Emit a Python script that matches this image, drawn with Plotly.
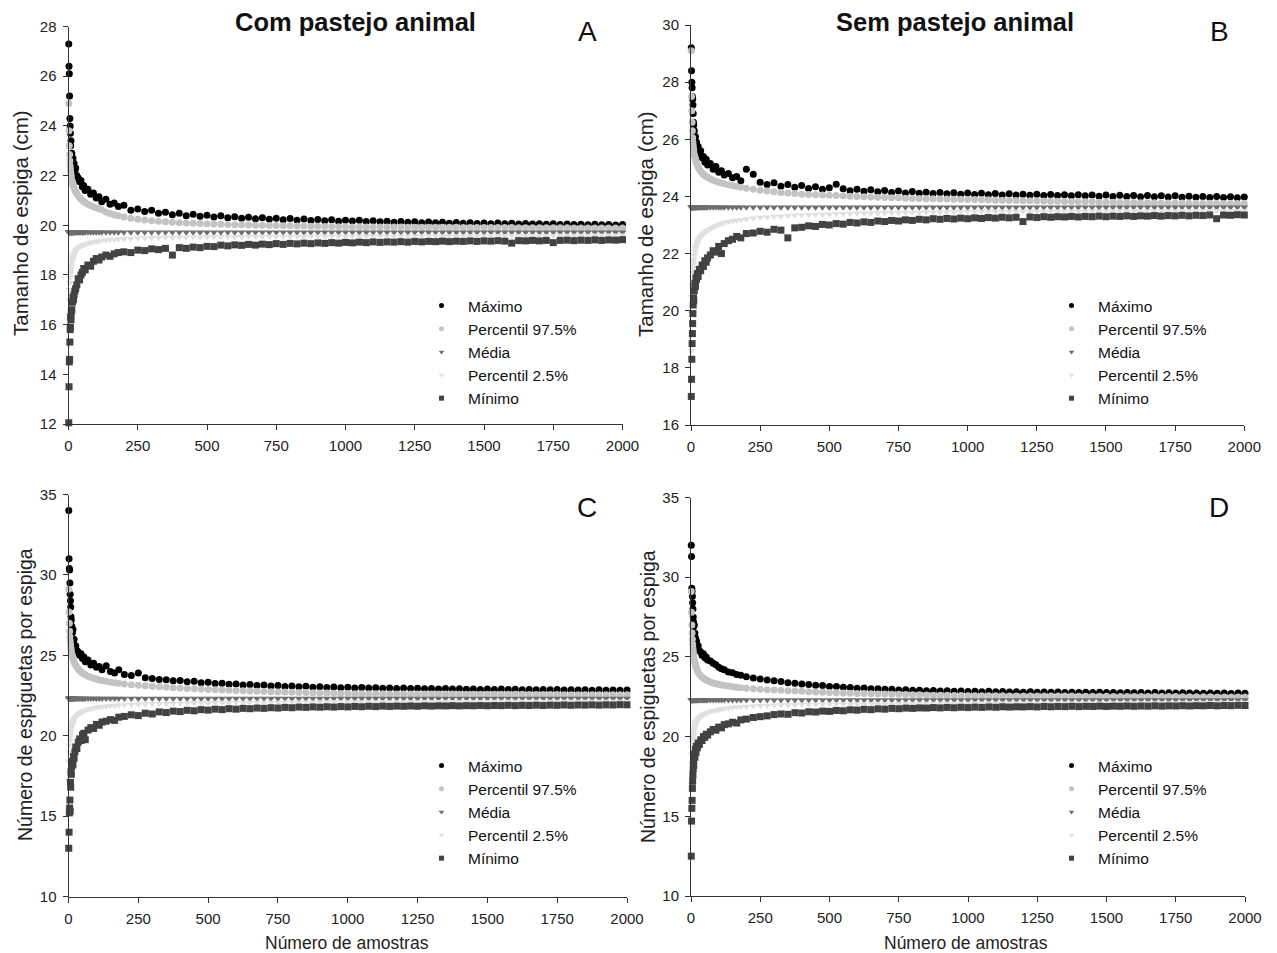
import plotly.graph_objects as go

# ---------------- data ----------------
N = [1, 2, 3, 4, 5, 6, 7, 8, 9, 10,
     12, 14, 16, 18, 20, 23, 26, 30, 35, 40,
     45, 50, 55, 60, 70, 80, 90, 100, 110, 120,
     135, 150, 165, 180, 200, 225, 250,
     275, 300, 325, 350, 375, 400, 425, 450, 475, 500,
     525, 550, 575, 600, 625, 650, 675, 700, 725, 750,
     775, 800, 825, 850, 875, 900, 925, 950, 975, 1000,
     1025, 1050, 1075, 1100, 1125, 1150, 1175, 1200, 1225, 1250,
     1275, 1300, 1325, 1350, 1375, 1400, 1425, 1450, 1475, 1500,
     1525, 1550, 1575, 1600, 1625, 1650, 1675, 1700, 1725, 1750,
     1775, 1800, 1825, 1850, 1875, 1900, 1925, 1950, 1975, 2000]

A_MAX = [27.3, 26.4, 26.1, 25.2, 24.3, 24.0, 23.7, 23.2, 23.4, 22.8,
         22.9, 22.6, 22.7, 22.4, 22.5, 22.2, 22.3, 22.0, 21.9, 21.75,
         21.8, 21.55, 21.6, 21.4, 21.45, 21.25, 21.3, 21.1, 21.15, 20.95,
         21.05, 20.85, 20.9, 20.75, 20.8, 20.6, 20.65,
         20.55, 20.6, 20.48, 20.52, 20.42, 20.48, 20.38, 20.44, 20.36, 20.4,
         20.33, 20.38, 20.3, 20.34, 20.28, 20.32, 20.26, 20.3, 20.24, 20.28,
         20.22, 20.27, 20.2, 20.25, 20.19, 20.23, 20.18, 20.22, 20.16, 20.2,
         20.17, 20.2, 20.15, 20.18, 20.14, 20.16, 20.12, 20.15, 20.12, 20.14,
         20.1, 20.13, 20.1, 20.12, 20.08, 20.11, 20.08, 20.1, 20.07, 20.09,
         20.06, 20.09, 20.06, 20.08, 20.05, 20.07, 20.05, 20.06, 20.04, 20.06,
         20.03, 20.05, 20.03, 20.04, 20.02, 20.04, 20.02, 20.03, 20.01, 20.03]
A_P975 = [24.9, 23.8, 23.2, 22.85, 22.6, 22.4, 22.25, 22.13, 22.03, 21.95,
          21.82, 21.72, 21.63, 21.56, 21.5, 21.42, 21.35, 21.27, 21.19, 21.12,
          21.06, 21.01, 20.96, 20.92, 20.85, 20.79, 20.74, 20.7, 20.66, 20.62,
          20.53, 20.47, 20.42, 20.38, 20.33, 20.28, 20.24,
          20.21, 20.18, 20.16, 20.14, 20.12, 20.1, 20.09, 20.08, 20.07, 20.06,
          20.05, 20.04, 20.03, 20.02, 20.02, 20.01, 20.0, 20.0, 19.99, 19.99,
          19.98, 19.98, 19.97, 19.97, 19.96, 19.96, 19.95, 19.95, 19.94, 19.94,
          19.93, 19.93, 19.93, 19.93, 19.93, 19.93, 19.93, 19.93, 19.92, 19.92,
          19.92, 19.92, 19.92, 19.92, 19.92, 19.92, 19.91, 19.91, 19.91, 19.91,
          19.91, 19.91, 19.91, 19.91, 19.9, 19.9, 19.9, 19.9, 19.9, 19.9,
          19.9, 19.9, 19.89, 19.89, 19.89, 19.89, 19.89, 19.89, 19.89, 19.89]
A_MEAN = 19.72
A_P25 = [15.2, 16.4, 17.0, 17.4, 17.7, 17.9, 18.05, 18.15, 18.25, 18.35,
         18.5, 18.6, 18.7, 18.77, 18.83, 18.9, 18.96, 19.02, 19.08, 19.12,
         19.16, 19.19, 19.22, 19.24, 19.28, 19.31, 19.33, 19.35, 19.37, 19.39,
         19.41, 19.43, 19.44, 19.45, 19.46, 19.47, 19.48,
         19.49, 19.5, 19.5, 19.51, 19.51, 19.52, 19.52, 19.53, 19.53, 19.53,
         19.54, 19.54, 19.54, 19.54, 19.54, 19.55, 19.55, 19.55, 19.55, 19.55,
         19.55, 19.55, 19.55, 19.55, 19.55, 19.56, 19.56, 19.56, 19.56, 19.56,
         19.56, 19.56, 19.56, 19.56, 19.56, 19.56, 19.56, 19.56, 19.56, 19.56,
         19.57, 19.57, 19.57, 19.57, 19.57, 19.57, 19.57, 19.57, 19.57, 19.57,
         19.58, 19.58, 19.58, 19.58, 19.58, 19.58, 19.58, 19.58, 19.58, 19.58,
         19.59, 19.59, 19.59, 19.59, 19.59, 19.6, 19.6, 19.6, 19.6, 19.6]
A_MIN = [12.05, 13.5, 14.5, 14.6, 15.3, 15.8, 15.9, 16.3, 16.2, 16.5,
         16.6, 16.9, 17.1, 17.0, 17.2, 17.35, 17.45, 17.6, 17.85, 17.8,
         18.0, 18.1, 18.26, 18.2, 18.4, 18.35, 18.55, 18.66, 18.6, 18.72,
         18.8, 18.75, 18.85, 18.9, 18.93, 18.9, 19.0,
         18.98, 19.05, 19.02, 19.07, 18.8, 19.1, 19.07, 19.12, 19.1, 19.15,
         19.14, 19.2, 19.17, 19.21, 19.19, 19.23, 19.2, 19.24, 19.22, 19.26,
         19.23, 19.27, 19.25, 19.28, 19.26, 19.29, 19.27, 19.3, 19.28, 19.31,
         19.29, 19.32, 19.3, 19.33, 19.31, 19.33, 19.32, 19.34, 19.32, 19.35,
         19.33, 19.35, 19.34, 19.36, 19.34, 19.36, 19.35, 19.37, 19.35, 19.37,
         19.36, 19.38, 19.36, 19.28, 19.38, 19.37, 19.39, 19.37, 19.39, 19.3,
         19.39, 19.4, 19.38, 19.4, 19.39, 19.41, 19.39, 19.41, 19.4, 19.42]

B_MAX = [29.2, 28.4, 28.0, 27.8, 27.5, 27.4, 27.2, 26.9, 26.6, 26.5,
         26.3, 26.0, 26.1, 25.8, 25.9, 25.65, 25.75, 25.5, 25.6, 25.35,
         25.4, 25.2, 25.3, 25.1, 25.15, 24.95, 25.05, 24.85, 24.9, 24.75,
         24.8, 24.65, 24.7, 24.55, 24.95, 24.78, 24.5,
         24.42, 24.48, 24.36, 24.42, 24.32, 24.38, 24.28, 24.34, 24.25, 24.3,
         24.43, 24.27, 24.2, 24.25, 24.18, 24.23, 24.16, 24.21, 24.14, 24.19,
         24.12, 24.17, 24.11, 24.15, 24.1, 24.14, 24.09, 24.13, 24.08, 24.12,
         24.07, 24.11, 24.06, 24.1, 24.05, 24.09, 24.05, 24.08, 24.04, 24.08,
         24.03, 24.07, 24.03, 24.06, 24.02, 24.06, 24.02, 24.05, 24.01, 24.05,
         24.0, 24.04, 24.0, 24.03, 23.99, 24.03, 23.99, 24.02, 23.98, 24.02,
         23.97, 24.01, 23.97, 24.0, 23.96, 24.0, 23.96, 23.99, 23.95, 23.98]
B_P975 = [29.1, 27.5, 27.0, 26.6, 26.3, 26.05, 25.9, 25.78, 25.68, 25.6,
          25.47, 25.38, 25.3, 25.23, 25.17, 25.09, 25.02, 24.95, 24.88, 24.82,
          24.77, 24.73, 24.7, 24.67, 24.62, 24.57, 24.53, 24.5, 24.47, 24.44,
          24.41, 24.38, 24.35, 24.32, 24.29, 24.25, 24.22,
          24.19, 24.16, 24.14, 24.12, 24.1, 24.08, 24.07, 24.06, 24.05, 24.04,
          24.03, 24.02, 24.01, 24.0, 23.99, 23.98, 23.97, 23.96, 23.95, 23.95,
          23.94, 23.93, 23.93, 23.92, 23.92, 23.91, 23.91, 23.9, 23.9, 23.89,
          23.89, 23.88, 23.88, 23.87, 23.87, 23.86, 23.86, 23.85, 23.85, 23.84,
          23.84, 23.83, 23.83, 23.82, 23.82, 23.81, 23.81, 23.81, 23.8, 23.8,
          23.8, 23.79, 23.79, 23.79, 23.78, 23.78, 23.78, 23.77, 23.77, 23.77,
          23.77, 23.76, 23.76, 23.76, 23.76, 23.75, 23.75, 23.75, 23.75, 23.75]
B_MEAN = 23.62
B_P25 = [18.6, 19.9, 20.5, 20.9, 21.15, 21.35, 21.5, 21.62, 21.72, 21.8,
         21.95, 22.07, 22.17, 22.25, 22.32, 22.4, 22.47, 22.54, 22.6, 22.65,
         22.7, 22.74, 22.78, 22.81, 22.87, 22.92, 22.97, 23.02, 23.05, 23.08,
         23.11, 23.14, 23.16, 23.18, 23.21, 23.24, 23.26,
         23.28, 23.3, 23.31, 23.32, 23.34, 23.35, 23.36, 23.37, 23.37, 23.38,
         23.39, 23.39, 23.4, 23.41, 23.41, 23.42, 23.42, 23.43, 23.43, 23.43,
         23.44, 23.44, 23.44, 23.45, 23.45, 23.45, 23.45, 23.46, 23.46, 23.46,
         23.47, 23.47, 23.47, 23.47, 23.47, 23.47, 23.47, 23.47, 23.47, 23.47,
         23.48, 23.48, 23.48, 23.48, 23.48, 23.48, 23.48, 23.48, 23.48, 23.48,
         23.49, 23.49, 23.49, 23.49, 23.49, 23.49, 23.49, 23.49, 23.49, 23.49,
         23.5, 23.5, 23.5, 23.5, 23.5, 23.5, 23.5, 23.5, 23.5, 23.5]
B_MIN = [17.0, 17.6, 18.3, 18.85, 19.2, 19.55, 19.9, 20.2, 20.45, 20.35,
         20.7, 20.95, 20.85, 21.15, 21.1, 21.3, 21.2, 21.45, 21.4, 21.6,
         21.55, 21.75, 21.7, 21.85, 21.95, 22.1, 22.05, 22.25, 22.0, 22.35,
         22.45, 22.5, 22.6, 22.55, 22.7, 22.72, 22.78,
         22.75, 22.85, 22.82, 22.55, 22.9, 22.92, 22.97, 22.95, 23.02, 23.0,
         23.05, 23.03, 23.09, 23.07, 23.11, 23.09, 23.14, 23.12, 23.16, 23.14,
         23.18, 23.16, 23.2, 23.18, 23.22, 23.2, 23.23, 23.21, 23.24, 23.22,
         23.25, 23.23, 23.26, 23.24, 23.27, 23.25, 23.27, 23.12, 23.28, 23.26,
         23.29, 23.27, 23.29, 23.28, 23.3, 23.28, 23.3, 23.29, 23.31, 23.29,
         23.31, 23.3, 23.32, 23.3, 23.32, 23.31, 23.33, 23.31, 23.33, 23.32,
         23.34, 23.32, 23.34, 23.33, 23.35, 23.22, 23.35, 23.34, 23.36, 23.35]

C_MAX = [34.0, 31.0, 30.4, 30.3, 29.5, 28.8, 28.4, 28.0, 27.4, 27.2,
         26.8, 26.4, 26.6, 25.9, 26.0, 25.5, 25.6, 25.3, 25.2, 25.0,
         25.1, 24.8, 24.9, 24.6, 24.7, 24.4, 24.5, 24.25, 24.3, 24.1,
         24.35, 24.0, 23.9, 24.1, 23.8, 23.75, 23.9,
         23.6, 23.55, 23.5, 23.48, 23.42, 23.44, 23.36, 23.38, 23.3, 23.32,
         23.24, 23.26, 23.2, 23.22, 23.16, 23.18, 23.12, 23.15, 23.09, 23.12,
         23.06, 23.09, 23.04, 23.07, 23.02, 23.05, 23.0, 23.03, 22.98, 23.01,
         22.97, 23.0, 22.96, 22.98, 22.95, 22.97, 22.94, 22.96, 22.93, 22.95,
         22.92, 22.94, 22.91, 22.93, 22.9, 22.92, 22.89, 22.91, 22.88, 22.9,
         22.88, 22.9, 22.87, 22.89, 22.86, 22.88, 22.86, 22.87, 22.85, 22.87,
         22.84, 22.86, 22.84, 22.85, 22.83, 22.85, 22.83, 22.84, 22.82, 22.84]
C_P975 = [29.1, 27.7, 27.0, 26.5, 26.15, 25.9, 25.7, 25.53, 25.39, 25.27,
          25.08, 24.93, 24.8, 24.69, 24.6, 24.48, 24.38, 24.27, 24.15, 24.05,
          23.97, 23.9, 23.84, 23.79, 23.7, 23.63, 23.57, 23.52, 23.47, 23.43,
          23.38, 23.33, 23.29, 23.26, 23.22, 23.17, 23.13,
          23.1, 23.07, 23.04, 23.01, 22.98, 22.96, 22.94, 22.92, 22.9, 22.88,
          22.86, 22.84, 22.82, 22.81, 22.79, 22.78, 22.76, 22.75, 22.74, 22.72,
          22.71, 22.7, 22.69, 22.68, 22.67, 22.66, 22.65, 22.64, 22.63, 22.62,
          22.61, 22.61, 22.61, 22.61, 22.61, 22.6, 22.6, 22.6, 22.6, 22.6,
          22.59, 22.59, 22.59, 22.59, 22.59, 22.58, 22.58, 22.58, 22.58, 22.58,
          22.57, 22.57, 22.57, 22.57, 22.57, 22.56, 22.56, 22.56, 22.56, 22.56,
          22.55, 22.55, 22.55, 22.55, 22.55, 22.54, 22.54, 22.54, 22.54, 22.54]
C_MEAN = 22.32
C_P25 = [17.2, 18.4, 19.0, 19.4, 19.7, 19.92, 20.1, 20.24, 20.36, 20.46,
         20.62, 20.75, 20.85, 20.94, 21.01, 21.1, 21.18, 21.26, 21.34, 21.4,
         21.45, 21.5, 21.54, 21.57, 21.63, 21.68, 21.72, 21.75, 21.78, 21.8,
         21.83, 21.86, 21.88, 21.9, 21.92, 21.94, 21.96,
         21.97, 21.98, 21.99, 22.0, 22.01, 22.02, 22.03, 22.04, 22.04, 22.05,
         22.06, 22.06, 22.06, 22.06, 22.06, 22.07, 22.07, 22.07, 22.07, 22.07,
         22.08, 22.08, 22.08, 22.08, 22.08, 22.09, 22.09, 22.09, 22.09, 22.09,
         22.1, 22.1, 22.1, 22.1, 22.1, 22.1, 22.1, 22.1, 22.1, 22.1,
         22.11, 22.11, 22.11, 22.11, 22.11, 22.11, 22.11, 22.11, 22.11, 22.11,
         22.12, 22.12, 22.12, 22.12, 22.12, 22.12, 22.12, 22.12, 22.12, 22.12,
         22.13, 22.13, 22.13, 22.13, 22.13, 22.13, 22.13, 22.13, 22.13, 22.13]
C_MIN = [13.0, 14.0, 15.2, 15.5, 16.0, 15.3, 17.1, 16.8, 17.75, 17.6,
         18.1, 18.4, 18.2, 18.7, 18.6, 19.0, 19.3, 19.2, 19.6, 19.8,
         19.7, 20.05, 20.15, 19.75, 20.35, 20.5, 20.45, 20.7, 20.65, 20.85,
         20.9, 21.0, 20.95, 21.15, 21.2, 21.3, 21.25,
         21.4, 21.35, 21.48, 21.44, 21.53, 21.5, 21.58, 21.55, 21.62, 21.59,
         21.65, 21.62, 21.68, 21.65, 21.7, 21.68, 21.72, 21.7, 21.74, 21.72,
         21.76, 21.74, 21.78, 21.76, 21.79, 21.77, 21.8, 21.78, 21.81, 21.79,
         21.82, 21.8, 21.83, 21.81, 21.84, 21.82, 21.84, 21.83, 21.85, 21.83,
         21.86, 21.84, 21.86, 21.85, 21.87, 21.85, 21.87, 21.86, 21.88, 21.86,
         21.88, 21.87, 21.89, 21.87, 21.89, 21.88, 21.9, 21.88, 21.9, 21.89,
         21.91, 21.89, 21.91, 21.9, 21.92, 21.9, 21.92, 21.91, 21.93, 21.92]

D_MAX = [32.0, 31.3, 29.3, 29.1, 28.8, 28.4, 28.0, 27.5, 27.2, 26.9,
         27.0, 26.5, 26.2, 25.9, 26.0, 25.6, 25.7, 25.4, 25.3, 25.1,
         25.2, 24.95, 25.0, 24.8, 24.75, 24.6, 24.5, 24.35, 24.25, 24.2,
         24.05, 24.0, 23.9, 23.85, 23.75, 23.68, 23.62,
         23.55, 23.5, 23.45, 23.38, 23.35, 23.3, 23.27, 23.22, 23.2, 23.15,
         23.14, 23.1, 23.08, 23.04, 23.05, 23.0, 23.0, 22.97, 22.97, 22.93,
         22.94, 22.9, 22.91, 22.88, 22.89, 22.86, 22.87, 22.84, 22.86, 22.83,
         22.85, 22.82, 22.84, 22.81, 22.83, 22.8, 22.82, 22.79, 22.81, 22.79,
         22.8, 22.78, 22.8, 22.77, 22.79, 22.77, 22.78, 22.76, 22.78, 22.76,
         22.77, 22.75, 22.77, 22.75, 22.76, 22.74, 22.76, 22.74, 22.75, 22.73,
         22.75, 22.73, 22.74, 22.72, 22.74, 22.72, 22.73, 22.71, 22.73, 22.72]
D_P975 = [29.1, 27.8, 27.0, 26.5, 26.1, 25.8, 25.55, 25.35, 25.18, 25.05,
          24.83, 24.65, 24.5, 24.38, 24.28, 24.15, 24.04, 23.93, 23.82, 23.73,
          23.66, 23.6, 23.55, 23.5, 23.43, 23.37, 23.32, 23.28, 23.24, 23.21,
          23.17, 23.13, 23.1, 23.07, 23.04, 23.0, 22.97,
          22.94, 22.92, 22.9, 22.88, 22.86, 22.84, 22.82, 22.8, 22.78, 22.77,
          22.75, 22.74, 22.72, 22.71, 22.7, 22.69, 22.68, 22.67, 22.66, 22.65,
          22.64, 22.63, 22.62, 22.61, 22.6, 22.6, 22.59, 22.58, 22.58, 22.57,
          22.56, 22.56, 22.56, 22.56, 22.56, 22.55, 22.55, 22.55, 22.55, 22.55,
          22.54, 22.54, 22.54, 22.54, 22.54, 22.53, 22.53, 22.53, 22.53, 22.53,
          22.52, 22.52, 22.52, 22.52, 22.52, 22.51, 22.51, 22.51, 22.51, 22.51,
          22.5, 22.5, 22.5, 22.5, 22.5, 22.49, 22.49, 22.49, 22.49, 22.49]
D_MEAN = 22.3
D_P25 = [17.0, 18.3, 18.9, 19.3, 19.6, 19.83, 20.0, 20.14, 20.26, 20.36,
         20.52, 20.65, 20.76, 20.85, 20.92, 21.02, 21.1, 21.18, 21.26, 21.32,
         21.38, 21.43, 21.47, 21.51, 21.57, 21.62, 21.66, 21.7, 21.73, 21.76,
         21.79, 21.82, 21.85, 21.87, 21.89, 21.92, 21.94,
         21.95, 21.97, 21.98, 21.99, 22.0, 22.01, 22.02, 22.03, 22.04, 22.04,
         22.05, 22.05, 22.05, 22.05, 22.05, 22.06, 22.06, 22.06, 22.06, 22.06,
         22.07, 22.07, 22.07, 22.07, 22.07, 22.08, 22.08, 22.08, 22.08, 22.08,
         22.09, 22.09, 22.09, 22.09, 22.09, 22.09, 22.09, 22.09, 22.09, 22.09,
         22.1, 22.1, 22.1, 22.1, 22.1, 22.1, 22.1, 22.1, 22.1, 22.1,
         22.11, 22.11, 22.11, 22.11, 22.11, 22.11, 22.11, 22.11, 22.11, 22.11,
         22.12, 22.12, 22.12, 22.12, 22.12, 22.12, 22.12, 22.12, 22.12, 22.12]
D_MIN = [12.5, 14.7, 15.5, 16.0, 16.75, 17.2, 17.6, 18.0, 18.5, 18.2,
         18.9, 18.7, 19.2, 19.0, 19.4, 19.3, 19.6, 19.5, 19.8, 19.75,
         20.0, 19.95, 20.15, 20.1, 20.3, 20.45, 20.4, 20.6, 20.55, 20.75,
         20.8, 20.9, 20.85, 21.05, 21.1, 21.2, 21.25,
         21.3, 21.38, 21.42, 21.4, 21.5, 21.48, 21.56, 21.54, 21.6, 21.58,
         21.64, 21.62, 21.68, 21.66, 21.71, 21.69, 21.74, 21.72, 21.77, 21.75,
         21.79, 21.77, 21.8, 21.79, 21.82, 21.8, 21.83, 21.81, 21.84, 21.82,
         21.85, 21.83, 21.86, 21.84, 21.87, 21.85, 21.87, 21.86, 21.88, 21.86,
         21.89, 21.87, 21.89, 21.88, 21.9, 21.88, 21.9, 21.89, 21.91, 21.89,
         21.91, 21.9, 21.92, 21.9, 21.92, 21.91, 21.93, 21.91, 21.93, 21.92,
         21.94, 21.92, 21.94, 21.93, 21.95, 21.93, 21.95, 21.94, 21.96, 21.95]

SERIES_NAMES = ["Máximo", "Percentil 97.5%", "Média", "Percentil 2.5%", "Mínimo"]
X_TICKS = [0, 250, 500, 750, 1000, 1250, 1500, 1750, 2000]
PANEL_TITLES = ["Com pastejo animal", "Sem pastejo animal"]
PANEL_LETTERS = ["A", "B", "C", "D"]
Y_TITLES = ["Tamanho de espiga (cm)", "Número de espiguetas por espiga"]
X_TITLE = "Número de amostras"

# ---------------- styling ----------------
W, H = 1277, 953
FONT = "Arial, Liberation Sans, sans-serif"
STYLES = [
    dict(symbol="circle", color="#000000", size=7),
    dict(symbol="circle", color="#c3c3c3", size=7),
    dict(symbol="triangle-down", color="#6e6e6e", size=7),
    dict(symbol="triangle-down", color="#e0e0e0", size=7),
    dict(symbol="square", color="#424242", size=7),
]
LEGEND_SIZE = 5


def fx(p):
    return p / W


def fy(p):
    return 1 - p / H


panels = [
    dict(ax="", xdom=(68.5, 622.5), ydom=(26.5, 424.0), yr=(12, 28), dt=2,
         data=(A_MAX, A_P975, A_MEAN, A_P25, A_MIN), leg="legend",
         legxy=(415, 289), letter=(587, 31), ytitle=(20, 223), ysize=20.5),
    dict(ax="2", xdom=(691.0, 1244.3), ydom=(25.0, 425.0), yr=(16, 30), dt=2,
         data=(B_MAX, B_P975, B_MEAN, B_P25, B_MIN), leg="legend2",
         legxy=(1045, 289), letter=(1219, 31), ytitle=(645, 224), ysize=20.5),
    dict(ax="3", xdom=(68.5, 627.0), ydom=(494.5, 896.5), yr=(10, 35), dt=5,
         data=(C_MAX, C_P975, C_MEAN, C_P25, C_MIN), leg="legend3",
         legxy=(415, 749), letter=(587, 507), ytitle=(25, 695), ysize=19.5),
    dict(ax="4", xdom=(691.0, 1245.0), ydom=(497.5, 896.0), yr=(10, 35), dt=5,
         data=(D_MAX, D_P975, D_MEAN, D_P25, D_MIN), leg="legend4",
         legxy=(1045, 749), letter=(1219, 507), ytitle=(648, 697), ysize=19.5),
]

fig = go.Figure()
layout = dict(
    template="none",
    width=W, height=H, autosize=False,
    margin=dict(l=0, r=0, t=0, b=0, pad=0, autoexpand=False),
    paper_bgcolor="white", plot_bgcolor="white",
    font=dict(family=FONT, color="#222222"),
    annotations=[],
)

for i, p in enumerate(panels):
    xname = "x" + p["ax"]
    yname = "y" + p["ax"]
    for k, vals in enumerate(p["data"]):
        yvals = vals if isinstance(vals, list) else [vals] * len(N)
        st = STYLES[k]
        fig.add_trace(go.Scatter(
            x=N, y=yvals, mode="markers", name=SERIES_NAMES[k],
            marker=dict(symbol=st["symbol"], color=st["color"], size=st["size"],
                        line=dict(width=0)),
            xaxis=xname, yaxis=yname, cliponaxis=False, showlegend=False,
        ))
        fig.add_trace(go.Scatter(
            x=[None], y=[None], mode="markers", name=SERIES_NAMES[k],
            marker=dict(symbol=st["symbol"], color=st["color"], size=LEGEND_SIZE,
                        line=dict(width=0)),
            xaxis=xname, yaxis=yname, legend=p["leg"], showlegend=True,
        ))
    axstyle = dict(showline=True, linecolor="#333333", linewidth=1, ticks="outside",
                   ticklen=5, tickcolor="#333333", tickwidth=1, showgrid=False,
                   zeroline=False, automargin=False,
                   tickfont=dict(family=FONT, size=15, color="#222222"))
    layout["xaxis" + p["ax"]] = dict(
        domain=[fx(p["xdom"][0]), fx(p["xdom"][1])], range=[0, 2000],
        tickvals=X_TICKS, anchor=yname, ticklabelstandoff=3, **axstyle)
    layout["yaxis" + p["ax"]] = dict(
        domain=[fy(p["ydom"][1]), fy(p["ydom"][0])], range=list(p["yr"]),
        dtick=p["dt"], tick0=0, anchor=xname, ticklabelstandoff=3, **axstyle)
    layout[p["leg"]] = dict(
        x=fx(p["legxy"][0]), y=fy(p["legxy"][1]), xanchor="left", yanchor="top",
        bgcolor="rgba(0,0,0,0)", borderwidth=0, itemwidth=43,
        font=dict(family=FONT, size=15.5, color="#111111"),
    )
    layout["annotations"].append(dict(
        text=PANEL_LETTERS[i], x=fx(p["letter"][0]), y=fy(p["letter"][1]),
        xref="paper", yref="paper", xanchor="center", yanchor="middle",
        showarrow=False, font=dict(family=FONT, size=28, color="#111111")))
    layout["annotations"].append(dict(
        text=Y_TITLES[i // 2], x=fx(p["ytitle"][0]), y=fy(p["ytitle"][1]),
        xref="paper", yref="paper", xanchor="center", yanchor="middle",
        textangle=-90, showarrow=False,
        font=dict(family=FONT, size=p["ysize"], color="#222222")))

for t, xc in zip(PANEL_TITLES, (355, 955)):
    layout["annotations"].append(dict(
        text="<b>" + t + "</b>", x=fx(xc), y=fy(22), xref="paper", yref="paper",
        xanchor="center", yanchor="middle", showarrow=False,
        font=dict(family=FONT, size=25.5, color="#111111")))
for xc in (347, 966):
    layout["annotations"].append(dict(
        text=X_TITLE, x=fx(xc), y=fy(943), xref="paper", yref="paper",
        xanchor="center", yanchor="middle", showarrow=False,
        font=dict(family=FONT, size=17.5, color="#222222")))

fig.update_layout(**layout)
fig.write_html(
    "out.html",
    config={"displayModeBar": False},
    post_script="document.documentElement.style.margin='0px';document.body.style.margin='0px';"
                "document.body.style.padding='0px';document.documentElement.style.overflow='hidden';",
)
